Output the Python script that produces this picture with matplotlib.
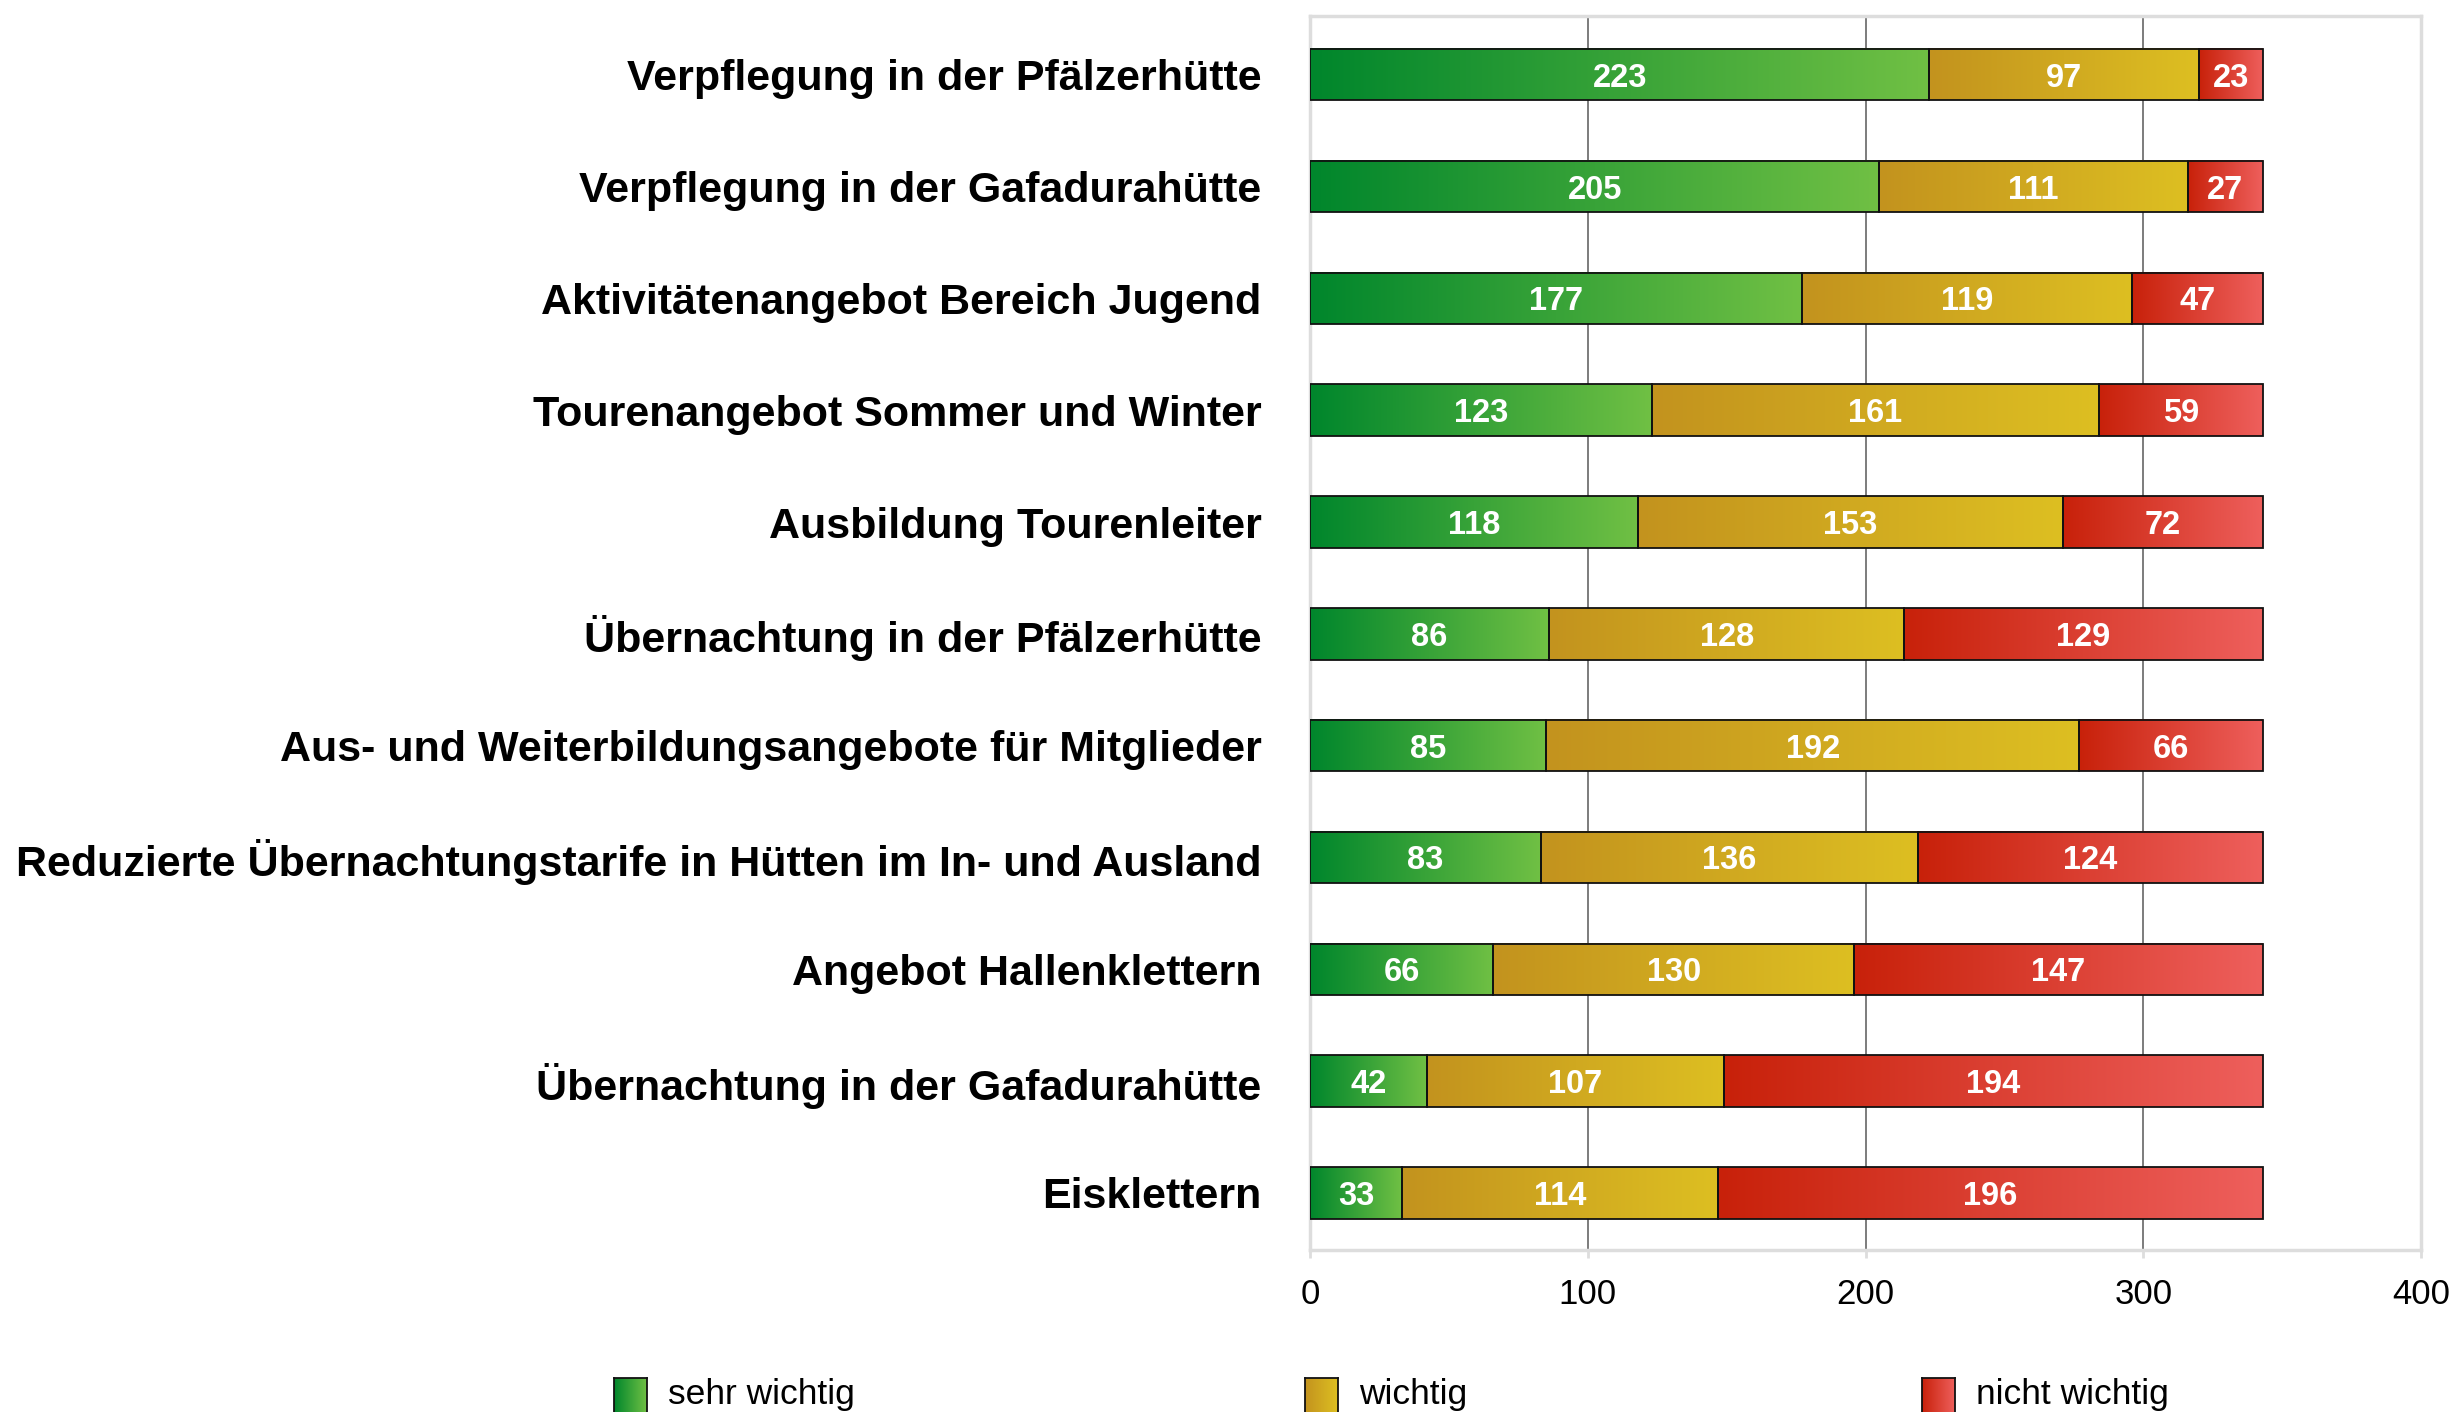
import numpy as np
import matplotlib
matplotlib.use("Agg")
import matplotlib.pyplot as plt
from matplotlib.colors import LinearSegmentedColormap

plt.rcParams['font.family'] = ['Liberation Sans', 'DejaVu Sans']

categories = [
    "Verpflegung in der Pfälzerhütte",
    "Verpflegung in der Gafadurahütte",
    "Aktivitätenangebot Bereich Jugend",
    "Tourenangebot Sommer und Winter",
    "Ausbildung Tourenleiter",
    "Übernachtung in der Pfälzerhütte",
    "Aus- und Weiterbildungsangebote für Mitglieder",
    "Reduzierte Übernachtungstarife in Hütten im In- und Ausland",
    "Angebot Hallenklettern",
    "Übernachtung in der Gafadurahütte",
    "Eisklettern",
]
sehr_wichtig = [223, 205, 177, 123, 118, 86, 85, 83, 66, 42, 33]
wichtig = [97, 111, 119, 161, 153, 128, 192, 136, 130, 107, 114]
nicht_wichtig = [23, 27, 47, 59, 72, 129, 66, 124, 147, 194, 196]

series_names = ["sehr wichtig", "wichtig", "nicht wichtig"]
gradients = [
    ("#00862c", "#70c044"),
    ("#c3931e", "#ddbf22"),
    ("#c8210a", "#ee5f5c"),
]

W, H = 2454, 1412
fig = plt.figure(figsize=(W / 100, H / 100), dpi=100)
ax = fig.add_axes([1310 / W, (H - 1250) / H, (2421 - 1310) / W, (1250 - 16) / H])

y = np.arange(len(categories))
grad = np.linspace(0, 1, 256).reshape(1, -1)

left = np.zeros(len(categories))
for vals, name, (c0, c1) in zip([sehr_wichtig, wichtig, nicht_wichtig], series_names, gradients):
    cmap = LinearSegmentedColormap.from_list(name, [c0, c1])
    bars = ax.barh(y, vals, left=left, height=0.46, facecolor='none',
                   edgecolor='#111111', linewidth=1.3, zorder=4)
    for b, v in zip(bars, vals):
        x0, y0 = b.get_x(), b.get_y()
        ax.imshow(grad, cmap=cmap, aspect='auto', zorder=3, interpolation='bilinear',
                  extent=[x0, x0 + b.get_width(), y0, y0 + b.get_height()])
        ax.text(x0 + b.get_width() / 2, y0 + b.get_height() / 2, str(v),
                color='white', fontsize=23.5, fontweight='bold',
                ha='center', va='center_baseline', zorder=5)
    left = left + np.array(vals)

ax.set_xlim(0, 400)
ax.set_ylim(len(categories) - 1 + 0.51, -0.525)
ax.set_xticks([0, 100, 200, 300, 400])
ax.set_yticks(y)
ax.set_yticklabels(categories, fontsize=31, fontweight='bold')
ax.tick_params(axis='y', length=0, pad=35)
ax.tick_params(axis='x', length=6, width=2, color='#dddddd', labelsize=25, pad=14)

ax.xaxis.grid(True, color='#666666', linewidth=1.2)
ax.set_axisbelow(True)
for s in ax.spines.values():
    s.set_color('#dddddd')
    s.set_linewidth(2.5)
    s.set_zorder(2)

# legend along the bottom edge
legend_x = [614, 1305, 1922]
for name, (c0, c1), lx in zip(series_names, gradients, legend_x):
    cmap = LinearSegmentedColormap.from_list(name + "_leg", [c0, c1])
    lax = fig.add_axes([lx / W, (H - 1420) / H, 33 / W, 42 / H])
    lax.imshow(grad, cmap=cmap, aspect='auto')
    lax.set_xticks([])
    lax.set_yticks([])
    for s in lax.spines.values():
        s.set_color('#111111')
        s.set_linewidth(1.3)
    fig.text((lx + 54) / W, (H - 1404) / H, name, fontsize=25.5,
             ha='left', va='baseline')

fig.savefig("out.png", dpi=100)
